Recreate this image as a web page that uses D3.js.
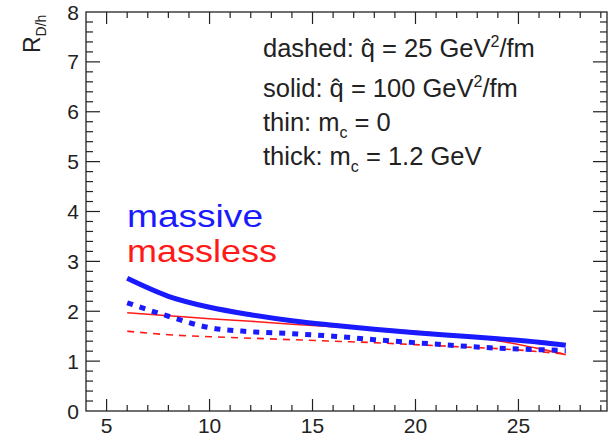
<!DOCTYPE html>
<html><head><meta charset="utf-8">
<script src="https://cdn.jsdelivr.net/npm/d3@7"></script>
<style>
body{margin:0;background:#fff;}
svg text{font-family:"Liberation Sans",Arial,Helvetica,sans-serif;}
</style></head>
<body><svg id="c" width="613" height="437"></svg>
<script>
const xVals = [6, 8, 10, 12, 14, 16, 18, 20, 22, 24, 26, 27.3];
const massiveSolid = [2.66, 2.30, 2.08, 1.93, 1.81, 1.72, 1.64, 1.57, 1.51, 1.45, 1.38, 1.32];
const massiveDashed = [2.17, 1.90, 1.67, 1.59, 1.55, 1.50, 1.43, 1.37, 1.31, 1.26, 1.23, 1.21];
const masslessSolid = [1.97, 1.91, 1.85, 1.80, 1.74, 1.69, 1.65, 1.60, 1.52, 1.41, 1.25, 1.13];
const masslessDashed = [1.60, 1.53, 1.49, 1.46, 1.43, 1.40, 1.37, 1.33, 1.29, 1.25, 1.19, 1.14];
const xTicks = [5, 10, 15, 20, 25];
const yTicks = [0, 1, 2, 3, 4, 5, 6, 7, 8];

const svg = d3.select("#c");
const L = 86, R = 607, T = 12, B = 411;
const x = d3.scaleLinear().domain([4, 29.3]).range([L, R]);
const y = d3.scaleLinear().domain([0, 8]).range([B, T]);
const axisColor = "#222";

// frame
svg.append("rect").attr("x", L).attr("y", T).attr("width", R - L).attr("height", B - T)
  .attr("fill", "none").attr("stroke", axisColor).attr("stroke-width", 1.3);

// x ticks (bottom & top)
const xMinor = d3.range(5, 30, 1);
xMinor.forEach(v => {
  const major = v % 5 === 0;
  const len = major ? 12 : 6;
  svg.append("line").attr("x1", x(v)).attr("x2", x(v)).attr("y1", B).attr("y2", B - len)
    .attr("stroke", axisColor).attr("stroke-width", 1.2);
  svg.append("line").attr("x1", x(v)).attr("x2", x(v)).attr("y1", T).attr("y2", T + len)
    .attr("stroke", axisColor).attr("stroke-width", 1.2);
});
// y ticks (left & right)
const yMinor = d3.range(0, 8.001, 0.2).map(v => Math.round(v * 10) / 10);
yMinor.forEach(v => {
  const major = Math.abs(v - Math.round(v)) < 1e-6;
  const len = major ? 14 : 7;
  if (v === 0 || v === 8) return;
  svg.append("line").attr("x1", L).attr("x2", L + len).attr("y1", y(v)).attr("y2", y(v))
    .attr("stroke", axisColor).attr("stroke-width", 1.2);
  svg.append("line").attr("x1", R).attr("x2", R - len).attr("y1", y(v)).attr("y2", y(v))
    .attr("stroke", axisColor).attr("stroke-width", 1.2);
});

// tick labels
svg.selectAll(".xl").data(xTicks).enter().append("text")
  .attr("x", d => x(d)).attr("y", 433).attr("text-anchor", "middle")
  .attr("font-size", 21).attr("fill", "#222").text(d => d);
svg.selectAll(".yl").data(yTicks).enter().append("text")
  .attr("x", 79).attr("y", d => y(d)).attr("dy", "0.36em").attr("text-anchor", "end")
  .attr("font-size", 21).attr("fill", "#222").text(d => d);

// y axis title
const yt = svg.append("text").attr("transform", "translate(40,53) rotate(-90)")
  .attr("font-size", 23).attr("fill", "#222");
yt.append("tspan").text("R");
yt.append("tspan").attr("font-size", 14).attr("dy", 6).text("D/h");

// lines
const line = d3.line().x((d, i) => x(xVals[i])).y(d => y(d)).curve(d3.curveMonotoneX);
const blue = "#1a1aff", red = "#ff1a1a";
svg.append("path").datum(masslessDashed).attr("d", line).attr("fill", "none")
  .attr("stroke", red).attr("stroke-width", 1.6).attr("stroke-dasharray", "7,6");
svg.append("path").datum(masslessSolid).attr("d", line).attr("fill", "none")
  .attr("stroke", red).attr("stroke-width", 1.6);
svg.append("path").datum(massiveDashed).attr("d", line).attr("fill", "none")
  .attr("stroke", blue).attr("stroke-width", 5).attr("stroke-dasharray", "6,7");
svg.append("path").datum(massiveSolid).attr("d", line).attr("fill", "none")
  .attr("stroke", blue).attr("stroke-width", 5);

// labels
svg.append("text").attr("x", 127).attr("y", 227).attr("font-size", 32)
  .attr("textLength", 136).attr("lengthAdjust", "spacingAndGlyphs").attr("fill", blue).text("massive");
svg.append("text").attr("x", 127).attr("y", 262).attr("font-size", 32)
  .attr("textLength", 150).attr("lengthAdjust", "spacingAndGlyphs").attr("fill", red).text("massless");

// legend text
const fs = 25.5, sfs = 16;
const t1 = svg.append("text").attr("x", 263).attr("y", 57).attr("font-size", fs).attr("fill", "#222");
t1.append("tspan").text("dashed: q\u0302 = 25 GeV");
t1.append("tspan").attr("font-size", sfs).attr("dy", -10).text("2");
t1.append("tspan").attr("dy", 10).text("/fm");
const t2 = svg.append("text").attr("x", 263).attr("y", 97).attr("font-size", fs).attr("fill", "#222");
t2.append("tspan").text("solid: q\u0302 = 100 GeV");
t2.append("tspan").attr("font-size", sfs).attr("dy", -10).text("2");
t2.append("tspan").attr("dy", 10).text("/fm");
const t3 = svg.append("text").attr("x", 263).attr("y", 131).attr("font-size", fs).attr("fill", "#222");
t3.append("tspan").text("thin: m");
t3.append("tspan").attr("font-size", sfs).attr("dy", 7).text("c");
t3.append("tspan").attr("dy", -7).text(" = 0");
const t4 = svg.append("text").attr("x", 263).attr("y", 165).attr("font-size", fs).attr("fill", "#222");
t4.append("tspan").text("thick: m");
t4.append("tspan").attr("font-size", sfs).attr("dy", 7).text("c");
t4.append("tspan").attr("dy", -7).text(" = 1.2 GeV");
</script></body></html>
